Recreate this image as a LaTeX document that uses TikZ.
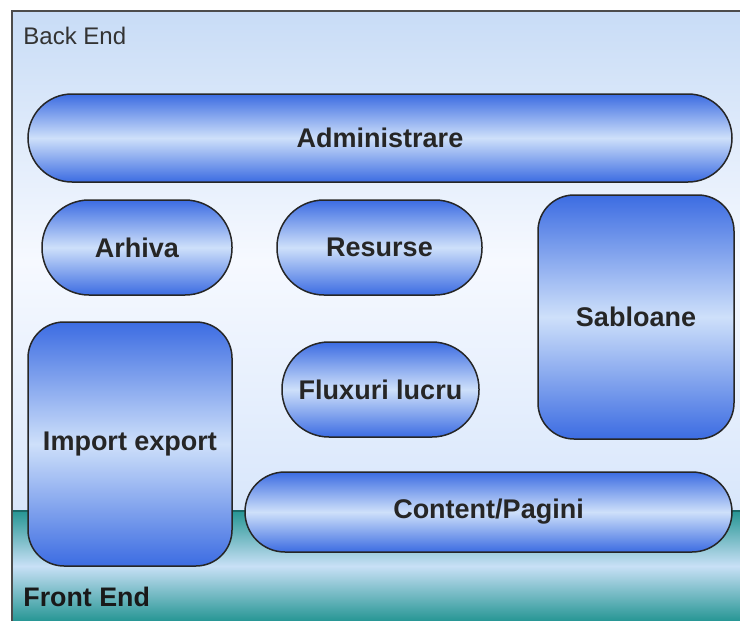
\documentclass[tikz,border=0pt]{standalone}
\usepackage{fontspec}
\setmainfont{Liberation Sans}
\usepackage{tikz}
\usetikzlibrary{positioning}
\definecolor{albastru}{RGB}{60,108,226}
\definecolor{deschis}{RGB}{206,224,250}
\definecolor{cerTop}{RGB}{200,220,246}
\definecolor{cerMij}{RGB}{246,249,255}
\definecolor{turcoaz}{RGB}{38,150,148}
\definecolor{turcMij}{RGB}{200,224,246}
\tikzset{
  modul/.style={draw=black!85,line width=0.75pt,inner sep=0pt,
    top color=albastru,bottom color=albastru,middle color=deschis,
    font=\fontsize{13.5}{16}\selectfont\bfseries,text=black!85,align=center},
  eticheta/.style={anchor=west,inner sep=0pt,text=black!80}
}
\newcommand{\modul}[6]{\node[modul,minimum width=#3*0.5pt,minimum height=#4*0.5pt,rounded corners=#5] (#1) at (#2) {#6}}

\begin{document}
\begin{tikzpicture}[x=0.5pt,y=-0.5pt]
    \useasboundingbox (0,0) rectangle (740,621);
    % fundal
    \shade[top color=cerTop,bottom color=deschis!80!white,middle color=cerMij] (12,11) rectangle (740,511);
    \shade[top color=turcoaz,bottom color=turcoaz,middle color=turcMij] (12,511) rectangle (740,621);
    \draw[turcoaz!70!black,line width=0.6pt] (12,511) -- (740,511);
    \draw[black!70,line width=1.2pt] (740,11) -- (12,11) -- (12,621);
    \node[eticheta,font=\fontsize{12}{14}\selectfont] (back) at (23,36) {Back End};
    \node[eticheta,font=\fontsize{13.4}{15}\selectfont\bfseries,text=black!90] (front) at (23,597) {Front End};
    % module
    \modul{admin}{380,138}{704}{88}{22pt}{Administrare};
    \modul{arhiva}{137,247.5}{190}{95}{23.5pt}{Arhiva};
    \modul{resurse}{379.5,247.5}{205}{95}{23.5pt}{Resurse};
    \modul{sabloane}{636,317}{196}{244}{18pt}{Sabloane};
    \modul{import}{130,444}{204}{244}{18pt}{Import export};
    \modul{fluxuri}{380.5,389.5}{197}{95}{23.5pt}{Fluxuri lucru};
    \modul{content}{488.5,512}{487}{80}{20pt}{Content/Pagini};
\end{tikzpicture}
\end{document}
